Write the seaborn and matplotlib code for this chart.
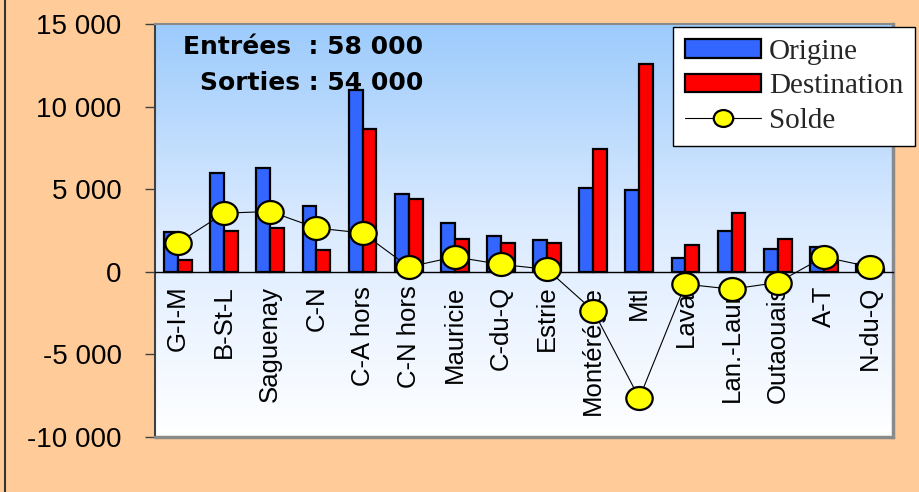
import numpy as np
import pandas as pd
import matplotlib
matplotlib.use("Agg")
import matplotlib.pyplot as plt
import seaborn as sns
from matplotlib.path import Path
from matplotlib.transforms import Affine2D
from matplotlib.patches import Patch
from matplotlib.lines import Line2D
from matplotlib.colors import LinearSegmentedColormap
from matplotlib.font_manager import FontProperties

# ---------------- data ----------------
regions = ["G-I-M", "B-St-L", "Saguenay", "C-N", "C-A hors", "C-N hors",
           "Mauricie", "C-du-Q", "Estrie", "Montérégie", "Mtl", "Laval",
           "Lan.-Laur.", "Outaouais", "A-T", "N-du-Q"]
origine = [2400, 6000, 6300, 4000, 11000, 4700, 2950, 2150, 1900, 5100,
           4950, 850, 2450, 1400, 1500, 450]
destination = [700, 2450, 2650, 1300, 8650, 4400, 2000, 1750, 1750, 7450,
               12600, 1600, 3550, 2000, 600, 150]
solde = [1750, 3550, 3650, 2650, 2350, 300, 900, 450, 150, -2350,
         -7650, -750, -1050, -650, 900, 300]
series_names = ["Origine", "Destination", "Solde"]
ytick_values = [15000, 10000, 5000, 0, -5000, -10000]
ytick_labels = ["15 000", "10 000", "5 000", "0", "-5 000", "-10 000"]
annotation_lines = ["Entrées  : 58 000", "Sorties : 54 000"]

BLUE = "#3366FF"
RED = "#FF0000"
YELLOW = "#FFFF00"
PEACH = "#FFCC99"

sns.set_theme(style="white")
plt.rcParams['font.family'] = ['Liberation Sans', 'DejaVu Sans']

W, H = 919, 492
fig = plt.figure(figsize=(W / 100, H / 100), dpi=100, facecolor=PEACH)
rect = [155 / W, 1 - 437 / H, (893 - 155) / W, (437 - 24) / H]

# gradient background of plot area
bg = fig.add_axes(rect, zorder=0)
grad = np.linspace(0, 1, 256).reshape(-1, 1)
cmap = LinearSegmentedColormap.from_list("bgblue", ["#FFFFFF", "#DCEBFF", "#9CCBFC"])
bg.imshow(grad, cmap=cmap, aspect="auto", origin="lower", extent=[0, 1, 0, 1])
bg.set_axis_off()

ax = fig.add_axes(rect, zorder=1)
ax.set_facecolor("none")

df = pd.DataFrame({
    "Région": regions * 2,
    "Valeur": origine + destination,
    "Série": [series_names[0]] * len(regions) + [series_names[1]] * len(regions),
})
sns.barplot(data=df, x="Région", y="Valeur", hue="Série",
            palette=[BLUE, RED], width=0.6, saturation=1,
            edgecolor="black", linewidth=1.6, legend=False, ax=ax, zorder=3)

ell = Path.unit_circle().transformed(Affine2D().scale(1.0, 0.87))
dfs = pd.DataFrame({"Région": regions, "Solde": solde})
sns.pointplot(data=dfs, x="Région", y="Solde", color="black", errorbar=None,
              marker=ell, markersize=19, markerfacecolor=YELLOW,
              markeredgecolor="black", markeredgewidth=1.6, linewidth=0.8,
              ax=ax, zorder=5)

ax.set_xlim(-0.5, len(regions) - 0.5)
ax.set_ylim(-10000, 15000)
ax.set_yticks(ytick_values)
ax.set_yticklabels(ytick_labels)
ax.set_xlabel("")
ax.set_ylabel("")
ax.grid(False)

ax.tick_params(axis="y", left=True, length=7, width=1, color="#404040",
               pad=17, labelsize=20, labelcolor="black")
ax.tick_params(axis="x", bottom=False, length=0, pad=10, labelsize=18.5,
               labelrotation=90, labelcolor="black")

ax.spines["bottom"].set_position(("data", 0))
ax.spines["bottom"].set_color("black")
ax.spines["bottom"].set_linewidth(1)
ax.spines["left"].set_color("#404040")
ax.spines["left"].set_linewidth(1.5)
ax.spines["top"].set_color("#8A8A8A")
ax.spines["top"].set_linewidth(1.5)
ax.spines["right"].set_color("#8A8A8A")
ax.spines["right"].set_linewidth(2.5)
for s in ax.spines.values():
    s.set_visible(True)
ax.add_line(Line2D([0, 1], [0, 0], transform=ax.transAxes, color="#8A8A8A",
                   lw=2.5, clip_on=False, zorder=6))

# annotations
fig.text(423 / W, 1 - 47 / H, annotation_lines[0], ha="right", va="center",
         fontsize=18, fontweight="bold", family=["DejaVu Sans"], color="black")
fig.text(423 / W, 1 - 83 / H, annotation_lines[1], ha="right", va="center",
         fontsize=18, fontweight="bold", family=["DejaVu Sans"], color="black")

# legend
handles = [
    Patch(facecolor=BLUE, edgecolor="black", linewidth=1.6),
    Patch(facecolor=RED, edgecolor="black", linewidth=1.6),
    Line2D([], [], color="black", lw=0.8, marker=ell, markersize=14,
           markerfacecolor=YELLOW, markeredgecolor="black", markeredgewidth=1.6),
]
leg = fig.legend(handles, series_names, loc="upper left",
                 bbox_to_anchor=(673 / W, 1 - 27 / H), borderaxespad=0,
                 prop=FontProperties(family="Liberation Serif", size=21),
                 frameon=True, fancybox=False, framealpha=1, edgecolor="black",
                 borderpad=0.4, labelspacing=0.3, handlelength=2.6,
                 handleheight=0.6, handletextpad=0.3)
leg.get_frame().set_linewidth(1)
leg.set_zorder(10)

# outer figure border line on the left
fig.add_artist(Line2D([4.5 / W, 4.5 / W], [0, 1], transform=fig.transFigure,
                      color="#333333", lw=1.5))

fig.savefig("out.png", dpi=100, facecolor=fig.get_facecolor())
